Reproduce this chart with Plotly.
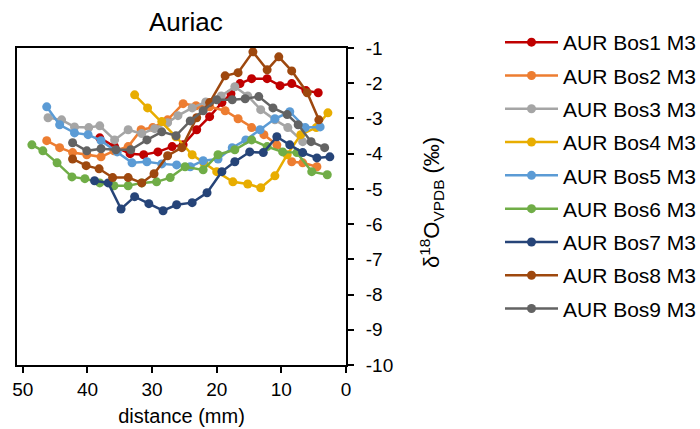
import plotly.graph_objects as go

# Intra-tooth oxygen isotope profiles, Auriac (third molars of Bos)
names = ["AUR Bos1 M3", "AUR Bos2 M3", "AUR Bos3 M3", "AUR Bos4 M3", "AUR Bos5 M3",
         "AUR Bos6 M3", "AUR Bos7 M3", "AUR Bos8 M3", "AUR Bos9 M3"]
colors = ["#C00000", "#ED7D31", "#A5A5A5", "#E8AD00", "#5B9BD5",
          "#70AD47", "#264478", "#9E480E", "#636363"]

bos1_d = [38.1, 35.8, 33.4, 31.3, 29.1, 26.9, 25.2, 23.1, 21.1, 19.2, 17.8, 16.4, 14.6, 12.2, 10.2, 8.4, 6.2, 4.3]
bos1_o = [-3.55, -3.80, -4.00, -4.03, -3.95, -3.80, -3.75, -3.32, -2.95, -2.55, -2.30, -2.01, -1.87, -1.87, -2.07, -2.01, -2.21, -2.27]

bos2_d = [46.3, 44.3, 42.3, 40.1, 37.9, 35.9, 33.7, 31.7, 29.9, 27.6, 25.2, 23.2, 21.1, 18.7, 16.7, 14.6, 12.7, 10.7, 8.4, 6.7, 4.5]
bos2_o = [-3.63, -3.83, -3.97, -4.03, -4.09, -3.92, -3.80, -3.32, -3.26, -3.04, -2.58, -2.64, -2.67, -2.78, -3.01, -3.26, -3.46, -3.75, -4.23, -4.26, -4.37]

bos3_d = [46.1, 44.0, 42.0, 39.8, 38.1, 35.8, 33.7, 31.6, 29.6, 27.6, 26.0, 23.8, 21.7, 19.3, 17.2, 15.2, 13.2, 11.0, 9.0, 6.7]
bos3_o = [-2.98, -3.04, -3.24, -3.26, -3.21, -3.61, -3.32, -3.43, -3.29, -3.12, -2.92, -2.70, -2.53, -2.36, -2.10, -2.36, -2.75, -3.04, -3.26, -3.66]

bos4_d = [32.7, 30.7, 28.5, 26.3, 23.8, 22.0, 20.0, 17.5, 15.2, 13.2, 11.0, 9.1, 7.0, 4.6, 2.8]
bos4_o = [-2.33, -2.70, -3.09, -3.52, -4.03, -4.26, -4.51, -4.80, -4.86, -4.97, -4.63, -4.03, -3.46, -3.26, -2.84]

bos5_d = [46.3, 44.3, 42.0, 39.9, 37.9, 35.4, 33.1, 30.8, 28.5, 26.2, 24.1, 22.1, 19.8, 17.6, 15.5, 13.3, 11.0, 8.7, 6.3, 4.0]
bos5_o = [-2.67, -3.18, -3.41, -3.46, -3.63, -3.95, -4.26, -4.23, -4.29, -4.32, -4.37, -4.20, -4.15, -3.83, -3.61, -3.32, -3.01, -2.81, -3.26, -3.24]

bos6_d = [48.6, 46.9, 44.7, 42.4, 40.4, 38.1, 35.9, 33.7, 31.6, 29.3, 27.2, 24.9, 22.1, 19.8, 17.2, 14.6, 12.2, 9.8, 7.6, 5.3, 2.9]
bos6_o = [-3.75, -3.92, -4.26, -4.66, -4.71, -4.83, -4.91, -4.91, -4.83, -4.80, -4.68, -4.37, -4.46, -4.03, -3.89, -3.61, -3.80, -3.95, -3.97, -4.51, -4.60]

bos7_d = [38.9, 36.8, 34.8, 32.7, 30.5, 28.3, 26.2, 23.8, 21.5, 19.2, 17.2, 14.9, 12.8, 10.7, 8.7, 6.7, 4.5, 2.5]
bos7_o = [-4.77, -4.83, -5.57, -5.22, -5.42, -5.62, -5.45, -5.39, -5.11, -4.51, -4.23, -3.95, -3.97, -3.52, -3.75, -3.97, -4.12, -4.09]

bos8_d = [42.3, 40.2, 38.2, 36.1, 33.7, 31.6, 29.7, 27.6, 25.4, 23.1, 21.1, 18.7, 16.7, 14.4, 12.2, 10.4, 8.4, 6.0, 4.2]
bos8_o = [-4.15, -4.34, -4.43, -4.68, -4.68, -4.83, -4.57, -4.06, -3.83, -2.98, -2.55, -1.79, -1.70, -1.11, -1.62, -1.25, -1.65, -2.27, -3.04]

bos9_d = [42.3, 40.1, 37.9, 35.6, 33.3, 30.8, 28.5, 26.3, 24.1, 22.1, 20.0, 17.6, 15.6, 13.5, 11.3, 9.1, 7.4, 5.4, 3.3]
bos9_o = [-3.69, -3.92, -3.86, -3.89, -3.89, -3.61, -3.38, -3.49, -3.07, -2.78, -2.47, -2.47, -2.44, -2.38, -2.70, -2.89, -3.18, -3.66, -3.83]

x_ticks = [0, 10, 20, 30, 40, 50]
y_ticks = [-1, -2, -3, -4, -5, -6, -7, -8, -9, -10]
y_ticktext = ["-1", "-2", "-3", "-4", "-5", "-6", "-7", "-8", "-9", "-10"]

series = [(bos1_d, bos1_o), (bos2_d, bos2_o), (bos3_d, bos3_o), (bos4_d, bos4_o), (bos5_d, bos5_o),
          (bos6_d, bos6_o), (bos7_d, bos7_o), (bos8_d, bos8_o), (bos9_d, bos9_o)]

FONT = "Liberation Sans, Arial, sans-serif"

fig = go.Figure()
for i, ((d, o), name, col) in enumerate(zip(series, names, colors)):
    fig.add_trace(go.Scatter(
        x=d, y=o, name=name, mode="lines+markers",
        line=dict(color=col, width=2.5),
        marker=dict(color=col, size=9, symbol="circle"),
        legendgroup=f"g{i}",
    ))

axis_common = dict(
    showline=True, linecolor="black", linewidth=2, mirror=True,
    ticks="outside", ticklen=6, tickwidth=2, tickcolor="black",
    showgrid=False, zeroline=False,
    tickfont=dict(family=FONT, size=19, color="black"),
)

fig.update_layout(
    width=700, height=429,
    margin=dict(l=17, r=354, t=48, b=64, autoexpand=False),
    paper_bgcolor="white", plot_bgcolor="white",
    font=dict(family=FONT, color="black"),
    showlegend=True,
    legend=dict(
        xref="container", yref="container",
        x=500 / 700, xanchor="left", y=1 - 22 / 429, yanchor="top",
        font=dict(family=FONT, size=21, color="black"),
        itemwidth=53, tracegroupgap=3, maxheight=1,
        bgcolor="rgba(0,0,0,0)",
    ),
    xaxis=dict(
        range=[50.9, 0], tickvals=x_ticks,
        title=dict(text="distance (mm)", font=dict(family=FONT, size=20, color="black"), standoff=10),
        **axis_common,
    ),
    yaxis=dict(
        range=[-10, -1], tickvals=y_ticks, ticktext=y_ticktext, side="right", ticklabelstandoff=8,
        **axis_common,
    ),
    annotations=[
        dict(text="Auriac", xref="paper", yref="paper", x=0.514, y=1 + 26 / 317,
             xanchor="center", yanchor="middle", showarrow=False,
             font=dict(family=FONT, size=26, color="black")),
        dict(text="δ<sup>18</sup>O<sub>VPDB</sub> (‰)", xref="paper", yref="paper",
             x=(431 - 17) / 329, y=(365 - 203) / 317, textangle=-90,
             xanchor="center", yanchor="middle", showarrow=False,
             font=dict(family=FONT, size=22, color="black")),
    ],
)

fig.write_html("out.html")
